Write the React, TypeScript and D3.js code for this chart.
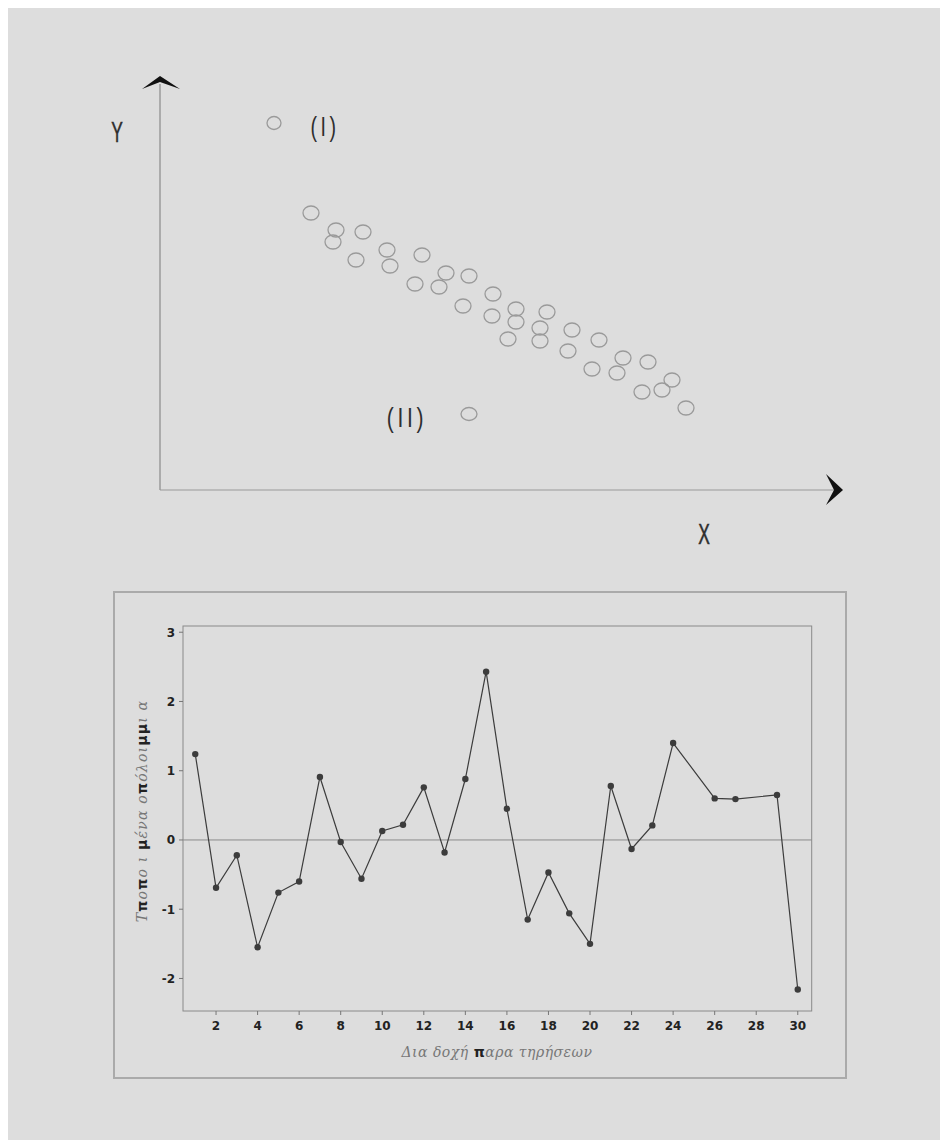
import React from "react";
import * as d3 from "d3";

// ---- Top schematic scatter (arbitrary units) ----
const clusterX = [151, 176, 173, 203, 196, 227, 230, 262, 255, 286, 279, 309, 303, 333, 332, 356, 356, 387, 348, 380, 380, 412, 408, 439, 432, 463, 457, 488, 482, 502, 512, 526];
const clusterY = [277, 260, 248, 258, 230, 240, 224, 235, 206, 217, 203, 214, 184, 196, 174, 181, 168, 178, 151, 162, 149, 160, 139, 150, 121, 132, 117, 128, 98, 100, 110, 82];
const outlierLabels = ["(I)", "(II)"];
const outlierX = [114, 309];
const outlierY = [367, 76];

// ---- Bottom residual plot ----
const obsIndex = [1, 2, 3, 4, 5, 6, 7, 8, 9, 10, 11, 12, 13, 14, 15, 16, 17, 18, 19, 20, 21, 22, 23, 24, 26, 27, 29, 30];
const residuals = [1.24, -0.69, -0.22, -1.55, -0.76, -0.6, 0.91, -0.03, -0.56, 0.13, 0.22, 0.76, -0.18, 0.88, 2.43, 0.45, -1.15, -0.47, -1.06, -1.5, 0.78, -0.13, 0.21, 1.4, 0.6, 0.59, 0.65, -2.16];
const xTicks = [2, 4, 6, 8, 10, 12, 14, 16, 18, 20, 22, 24, 26, 28, 30];
const yTicks = [-2, -1, 0, 1, 2, 3];
const yLabelParts = [
  { t: "Τ", b: false }, { t: "π", b: true }, { t: "ο", b: false }, { t: "π", b: true },
  { t: "ο ι ", b: false }, { t: "μ", b: true }, { t: "ένα  ο", b: false }, { t: "π", b: true },
  { t: "όλοι", b: false }, { t: "μμ", b: true }, { t: "ι α", b: false },
];
const xLabelParts = [
  { t: "Δια δοχή ", b: false }, { t: "π", b: true }, { t: "αρα τηρήσεων", b: false },
];

export default function App() {
  const sx = d3.scaleLinear().domain([0, 680]).range([160, 840]);
  const sy = d3.scaleLinear().domain([0, 410]).range([490, 80]);

  const bx = d3.scaleLinear().domain([0.41, 30.67]).range([183, 811.7]);
  const by = d3.scaleLinear().domain([-2.47, 3.09]).range([1011, 626]);
  const line = d3
    .line<number>()
    .x((_, i) => bx(obsIndex[i]))
    .y((d) => by(d));

  const textCol = "#2e2e2e";
  const scriptFont = "'DejaVu Serif', 'Liberation Serif', serif";
  const boldFont = "'DejaVu Sans', sans-serif";
  const narrow = (cx: number, k: number) => `translate(${cx},0) scale(${k},1) translate(${-cx},0)`;
  const l1 = sx(outlierX[0]) + 51;
  const l2 = sx(outlierX[1]) - 62;

  return (
    <svg width={940} height={1132} style={{ display: "block", background: "#dddddd" }}>
      <g transform="translate(-8,-8)">
        {/* Top schematic */}
        <line x1={160} y1={84} x2={160} y2={490} stroke="#8a8a8a" strokeWidth={1.2} />
        <line x1={160} y1={490} x2={836} y2={490} stroke="#9a9a9a" strokeWidth={1.2} />
        <path d="M142,89 L160,76 L180,89 L160,82 Z" fill="#111" />
        <path d="M826,474 L843,490 L826,505 L834,490 Z" fill="#111" />
        <text x={117} y={142} fontSize={29} fill={textCol} stroke={textCol} strokeWidth={0.5} textAnchor="middle" transform={narrow(117, 0.6)} fontFamily="'Liberation Sans', sans-serif">Y</text>
        <text x={704} y={544} fontSize={29} fill={textCol} stroke={textCol} strokeWidth={0.5} textAnchor="middle" transform={narrow(704, 0.6)} fontFamily="'Liberation Sans', sans-serif">X</text>
        {clusterX.map((x, i) => (
          <ellipse key={i} cx={sx(x)} cy={sy(clusterY[i])} rx={8} ry={7} fill="none" stroke="#9a9a9a" strokeWidth={1.3} />
        ))}
        {outlierX.map((x, i) => (
          <ellipse key={"o" + i} cx={sx(x)} cy={sy(outlierY[i])} rx={i === 0 ? 7 : 8} ry={6.5} fill="none" stroke="#9a9a9a" strokeWidth={1.3} />
        ))}
        <text x={l1} y={sy(outlierY[0]) + 13} fontSize={28} fill={textCol} textAnchor="middle" letterSpacing={5} fontFamily="'Liberation Sans', sans-serif" transform={narrow(l1, 0.7)}>{outlierLabels[0]}</text>
        <text x={l2} y={sy(outlierY[1]) + 13} fontSize={28} fill={textCol} textAnchor="middle" letterSpacing={5} fontFamily="'Liberation Sans', sans-serif" transform={narrow(l2, 0.75)}>{outlierLabels[1]}</text>

        {/* Bottom residual plot */}
        <rect x={114} y={592} width={732} height={486} fill="none" stroke="#aaaaaa" strokeWidth={2} />
        <rect x={183} y={626} width={628.7} height={385} fill="none" stroke="#8a8a8a" strokeWidth={1} />
        <line x1={183} x2={811.7} y1={by(0)} y2={by(0)} stroke="#8a8a8a" strokeWidth={1} />
        {yTicks.map((t) => (
          <g key={"y" + t}>
            <line x1={179} x2={183} y1={by(t)} y2={by(t)} stroke="#777" />
            <text x={175} y={by(t) + 4.5} fontSize={12} fontWeight="bold" fill="#222" textAnchor="end" fontFamily={boldFont}>{t}</text>
          </g>
        ))}
        {xTicks.map((t) => (
          <g key={"x" + t}>
            <line x1={bx(t)} x2={bx(t)} y1={1011} y2={1015} stroke="#777" />
            <text x={bx(t)} y={1030} fontSize={12} fontWeight="bold" fill="#222" textAnchor="middle" fontFamily={boldFont}>{t}</text>
          </g>
        ))}
        <path d={line(residuals) || ""} fill="none" stroke="#3c3c3c" strokeWidth={1.2} />
        {residuals.map((r, i) => (
          <circle key={"p" + i} cx={bx(obsIndex[i])} cy={by(r)} r={3.2} fill="#3c3c3c" />
        ))}
        <text transform="translate(147,811) rotate(-90)" textAnchor="middle" fontSize={14} letterSpacing={1.2} fill="#777" fontStyle="italic" fontFamily={scriptFont}>
          {yLabelParts.map((p, i) => (
            <tspan key={i} fontWeight={p.b ? "bold" : "normal"} fontStyle={p.b ? "normal" : "italic"} fontFamily={p.b ? boldFont : scriptFont} fill={p.b ? "#222" : "#777"}>{p.t}</tspan>
          ))}
        </text>
        <text x={497} y={1057} textAnchor="middle" fontSize={14} letterSpacing={0.5} fill="#777" fontStyle="italic" fontFamily={scriptFont}>
          {xLabelParts.map((p, i) => (
            <tspan key={i} fontWeight={p.b ? "bold" : "normal"} fontStyle={p.b ? "normal" : "italic"} fontFamily={p.b ? boldFont : scriptFont} fill={p.b ? "#222" : "#777"}>{p.t}</tspan>
          ))}
        </text>
      </g>
    </svg>
  );
}
